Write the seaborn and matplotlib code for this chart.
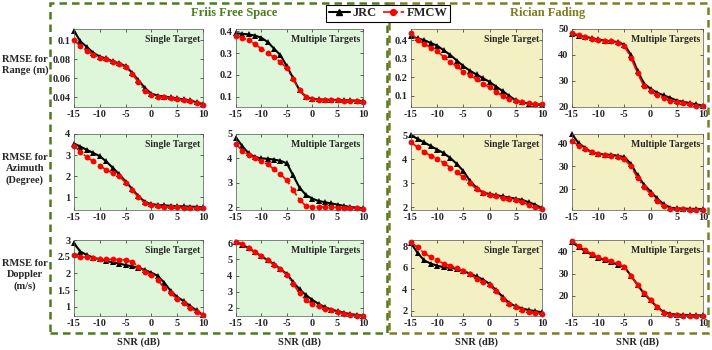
import numpy as np
import pandas as pd
import matplotlib
matplotlib.use("Agg")
import matplotlib.pyplot as plt
import seaborn as sns
from matplotlib.patches import Rectangle
from matplotlib.lines import Line2D

# SNR grid (dB)
snr = [-15, -13.75, -12.5, -11.25, -10, -8.75, -7.5, -6.25, -5, -3.75, -2.5,
       -1.25, 0, 1.25, 2.5, 3.75, 5, 6.25, 7.5, 8.75, 10]

# Range RMSE (m)
range_friis_single_jrc = [0.110, 0.099, 0.093, 0.087, 0.083, 0.081, 0.078, 0.076, 0.073, 0.066, 0.058,
                          0.050, 0.044, 0.042, 0.041, 0.040, 0.039, 0.038, 0.037, 0.035, 0.033]
range_friis_single_fmcw = [0.100, 0.094, 0.089, 0.085, 0.082, 0.080, 0.077, 0.075, 0.072, 0.065, 0.056,
                           0.047, 0.043, 0.041, 0.040, 0.039, 0.038, 0.037, 0.036, 0.034, 0.032]
range_friis_multi_jrc = [0.390, 0.388, 0.385, 0.380, 0.370, 0.350, 0.320, 0.290, 0.240, 0.185, 0.130,
                         0.100, 0.090, 0.088, 0.087, 0.086, 0.085, 0.084, 0.083, 0.082, 0.080]
range_friis_multi_fmcw = [0.380, 0.370, 0.360, 0.340, 0.320, 0.300, 0.280, 0.260, 0.230, 0.180, 0.130,
                          0.100, 0.090, 0.087, 0.085, 0.084, 0.083, 0.082, 0.081, 0.080, 0.078]
range_rician_single_jrc = [0.420, 0.410, 0.400, 0.385, 0.370, 0.345, 0.320, 0.290, 0.260, 0.235, 0.215,
                           0.195, 0.175, 0.150, 0.125, 0.100, 0.075, 0.065, 0.058, 0.055, 0.050]
range_rician_single_fmcw = [0.440, 0.400, 0.380, 0.360, 0.340, 0.310, 0.280, 0.260, 0.230, 0.210, 0.190,
                            0.165, 0.145, 0.120, 0.100, 0.085, 0.070, 0.065, 0.060, 0.058, 0.055]
range_rician_multi_jrc = [48.0, 47.5, 47.0, 46.5, 46.0, 45.5, 45.3, 45.0, 44.0, 40.0, 34.0,
                          29.0, 27.0, 25.5, 24.5, 23.5, 22.5, 22.0, 21.5, 21.0, 20.5]
range_rician_multi_fmcw = [48.5, 47.7, 47.0, 46.3, 45.8, 45.5, 45.2, 44.8, 43.5, 39.0, 33.0,
                           28.0, 26.0, 24.5, 23.5, 22.5, 22.0, 21.5, 21.0, 20.5, 20.2]

# Azimuth RMSE (degree)
az_friis_single_jrc = [3.55, 3.40, 3.25, 3.10, 2.95, 2.70, 2.40, 2.10, 1.75, 1.40, 1.05,
                       0.78, 0.68, 0.64, 0.62, 0.60, 0.58, 0.57, 0.56, 0.55, 0.53]
az_friis_single_fmcw = [3.45, 3.15, 2.90, 2.70, 2.50, 2.30, 2.15, 2.00, 1.70, 1.35, 1.00,
                        0.72, 0.62, 0.58, 0.55, 0.53, 0.52, 0.51, 0.50, 0.50, 0.50]
az_friis_multi_jrc = [4.85, 4.50, 4.20, 4.05, 4.00, 3.98, 3.95, 3.90, 3.80, 3.30, 2.80,
                      2.50, 2.35, 2.25, 2.20, 2.15, 2.10, 2.05, 2.00, 1.98, 1.95]
az_friis_multi_fmcw = [4.60, 4.30, 4.15, 4.00, 3.90, 3.75, 3.55, 3.35, 3.10, 2.70, 2.30,
                       2.05, 2.02, 2.00, 2.00, 2.00, 1.98, 1.97, 1.96, 1.95, 1.93]
az_rician_single_jrc = [5.00, 4.85, 4.70, 4.55, 4.40, 4.25, 4.05, 3.80, 3.50, 3.10, 2.80,
                        2.60, 2.55, 2.50, 2.45, 2.40, 2.35, 2.30, 2.20, 2.10, 1.95]
az_rician_single_fmcw = [4.70, 4.50, 4.30, 4.15, 4.00, 3.85, 3.65, 3.45, 3.25, 3.00, 2.75,
                         2.60, 2.50, 2.45, 2.40, 2.35, 2.30, 2.20, 2.10, 2.00, 1.92]
az_rician_multi_jrc = [44.0, 40.0, 38.0, 36.0, 35.5, 35.0, 35.0, 34.5, 34.0, 31.0, 26.0,
                       22.0, 19.0, 16.0, 13.5, 12.0, 11.7, 11.6, 11.5, 11.5, 11.4]
az_rician_multi_fmcw = [41.0, 39.0, 37.5, 36.0, 35.5, 35.0, 34.5, 34.0, 33.0, 30.0, 25.0,
                        21.0, 18.0, 15.0, 12.8, 11.5, 11.3, 11.3, 11.2, 11.2, 11.1]

# Doppler RMSE (m/s)
dop_friis_single_jrc = [2.90, 2.65, 2.55, 2.47, 2.42, 2.37, 2.33, 2.29, 2.25, 2.21, 2.17,
                        2.10, 2.02, 1.92, 1.72, 1.47, 1.29, 1.17, 1.02, 0.89, 0.75]
dop_friis_single_fmcw = [2.55, 2.50, 2.48, 2.45, 2.43, 2.42, 2.42, 2.41, 2.40, 2.35, 2.20,
                         2.05, 1.95, 1.80, 1.55, 1.40, 1.23, 1.10, 0.97, 0.85, 0.75]
dop_friis_multi_jrc = [6.10, 5.90, 5.70, 5.45, 5.20, 4.95, 4.70, 4.40, 4.10, 3.60, 3.15,
                       2.80, 2.50, 2.25, 2.05, 1.90, 1.80, 1.70, 1.62, 1.57, 1.52]
dop_friis_multi_fmcw = [6.10, 5.95, 5.70, 5.45, 5.20, 4.95, 4.65, 4.40, 4.05, 3.50, 2.90,
                        2.50, 2.25, 2.10, 1.95, 1.85, 1.75, 1.65, 1.57, 1.52, 1.48]
dop_rician_single_jrc = [8.30, 7.40, 6.70, 6.40, 6.20, 6.05, 6.00, 5.90, 5.70, 5.45, 5.20,
                         4.90, 4.50, 3.90, 3.30, 2.70, 2.40, 2.20, 2.05, 1.95, 1.85]
dop_rician_single_fmcw = [8.40, 7.90, 7.40, 7.00, 6.70, 6.40, 6.20, 6.00, 5.70, 5.40, 5.00,
                          4.70, 4.35, 3.80, 3.10, 2.60, 2.30, 2.10, 1.90, 1.80, 1.70]
dop_rician_multi_jrc = [44.0, 42.0, 40.0, 38.5, 37.0, 36.0, 35.0, 34.0, 33.0, 29.0, 25.0,
                        21.0, 18.0, 15.0, 12.8, 12.0, 11.6, 11.5, 11.4, 11.3, 11.3]
dop_rician_multi_fmcw = [44.5, 42.5, 40.5, 38.8, 37.5, 36.5, 35.5, 34.5, 33.0, 29.0, 25.0,
                         21.5, 18.0, 15.0, 12.5, 11.5, 11.3, 11.2, 11.1, 11.1, 11.0]

row_labels = ["RMSE for\nRange (m)", "RMSE for\nAzimuth\n(Degree)", "RMSE for\nDoppler\n(m/s)"]
panel_titles = ["Single Target", "Multiple Targets", "Single Target", "Multiple Targets"]

panels = [
    [(range_friis_single_jrc, range_friis_single_fmcw), (range_friis_multi_jrc, range_friis_multi_fmcw),
     (range_rician_single_jrc, range_rician_single_fmcw), (range_rician_multi_jrc, range_rician_multi_fmcw)],
    [(az_friis_single_jrc, az_friis_single_fmcw), (az_friis_multi_jrc, az_friis_multi_fmcw),
     (az_rician_single_jrc, az_rician_single_fmcw), (az_rician_multi_jrc, az_rician_multi_fmcw)],
    [(dop_friis_single_jrc, dop_friis_single_fmcw), (dop_friis_multi_jrc, dop_friis_multi_fmcw),
     (dop_rician_single_jrc, dop_rician_single_fmcw), (dop_rician_multi_jrc, dop_rician_multi_fmcw)],
]

ylims = [
    [(0.030, 0.112), (0.053, 0.41), (0.04, 0.46), (20, 50)],
    [(0.40, 4.0), (1.88, 5.0), (1.88, 5.05), (11, 44)],
    [(0.72, 3.0), (1.5, 6.2), (1.5, 8.6), (11, 45)],
]
yticks = [
    [[0.04, 0.06, 0.08, 0.1], [0.1, 0.2, 0.3, 0.4], [0.1, 0.2, 0.3, 0.4], [20, 30, 40, 50]],
    [[1, 2, 3, 4], [2, 3, 4, 5], [2, 3, 4, 5], [20, 30, 40]],
    [[1, 1.5, 2, 2.5, 3], [2, 3, 4, 5, 6], [2, 4, 6, 8], [20, 30, 40]],
]

sns.set_style("ticks")
plt.rcParams["font.family"] = ["Liberation Serif", "DejaVu Serif"]
plt.rcParams["font.weight"] = "bold"
plt.rcParams["axes.unicode_minus"] = False

W, H = 712, 350
fig = plt.figure(figsize=(W / 100, H / 100), dpi=100)

col_px = [(74, 203), (236, 363), (411, 542), (572, 703)]
row_px = [(29, 107), (134, 210), (240, 316)]
bg_green = "#def7da"
bg_yellow = "#f3f0c4"
green = "#4a7d1e"
olive = "#7f7d22"

for r in range(3):
    for c in range(4):
        x0, x1 = col_px[c]
        y0, y1 = row_px[r]
        ax = fig.add_axes([x0 / W, 1 - y1 / H, (x1 - x0) / W, (y1 - y0) / H])
        ax.set_facecolor(bg_green if c < 2 else bg_yellow)
        jrc, fmcw = panels[r][c]
        df = pd.DataFrame({"snr": snr, "JRC": jrc, "FMCW": fmcw})
        sns.lineplot(data=df, x="snr", y="JRC", ax=ax, color="black", lw=1.5,
                     marker="^", markersize=5, markeredgewidth=0, clip_on=False)
        sns.lineplot(data=df, x="snr", y="FMCW", ax=ax, color="red", lw=1.2, linestyle="-.",
                     marker="o", markersize=4.2, markeredgewidth=0, clip_on=False)
        ax.set_xlim(-15, 10)
        ax.set_ylim(*ylims[r][c])
        ax.set_xticks([-15, -10, -5, 0, 5, 10])
        ax.set_yticks(yticks[r][c])
        ax.set_yticklabels([f"{t:g}" for t in yticks[r][c]])
        ax.set_xlabel("")
        ax.set_ylabel("")
        ax.tick_params(direction="in", length=2, width=0.5, labelsize=7.5, pad=2.5,
                       top=True, right=True)
        for lab in ax.get_xticklabels() + ax.get_yticklabels():
            lab.set_fontweight("bold")
        for s in ax.spines.values():
            s.set_linewidth(0.5)
            s.set_color("#555555")
        ax.text(0.98, 0.92, panel_titles[c], transform=ax.transAxes, ha="right", va="top",
                fontsize=7, fontweight="bold")

# x labels
for c in range(4):
    xc = (col_px[c][0] + col_px[c][1]) / 2
    fig.text(xc / W, 1 - 342 / H, "SNR (dB)", ha="center", va="center",
             fontsize=7.5, fontweight="bold")

# row labels
for r, lab in enumerate(row_labels):
    yc = (row_px[r][0] + row_px[r][1]) / 2 - 3
    fig.text(25 / W, 1 - yc / H, lab, ha="center", va="center", fontsize=7.5,
             fontweight="bold", linespacing=1.3)

# dashed group boxes
fig.patches.append(Rectangle((50 / W, 1 - 333 / H), (387 - 50) / W, (333 - 3) / H,
                             transform=fig.transFigure, fill=False, edgecolor=green,
                             lw=1.8, linestyle=(0, (3, 2)), zorder=0))
fig.patches.append(Rectangle((389 / W, 1 - 333 / H), (708 - 389) / W, (333 - 3) / H,
                             transform=fig.transFigure, fill=False, edgecolor=olive,
                             lw=1.8, linestyle=(0, (3, 2)), zorder=0))

fig.text(234 / W, 1 - 13 / H, "Friis Free Space", color=green, ha="center", va="center",
         fontsize=9, fontweight="bold")
fig.text(548 / W, 1 - 13 / H, "Rician Fading", color=olive, ha="center", va="center",
         fontsize=9, fontweight="bold")

handles = [Line2D([], [], color="black", lw=1.5, marker="^", markersize=5),
           Line2D([], [], color="red", lw=1.2, linestyle="-.", marker="o", markersize=4.2)]
leg = fig.legend(handles, ["JRC", "FMCW"], loc="center", bbox_to_anchor=(388 / W, 1 - 13 / H),
                 ncol=2, frameon=True, fancybox=False, handlelength=1.7,
                 columnspacing=0.5, handletextpad=0.2, borderpad=0.2, borderaxespad=0,
                 prop={"weight": "bold", "size": 9})
leg.get_frame().set_edgecolor("black")
leg.get_frame().set_linewidth(0.8)
leg.get_frame().set_alpha(1)

fig.savefig("out.png", dpi=100)
